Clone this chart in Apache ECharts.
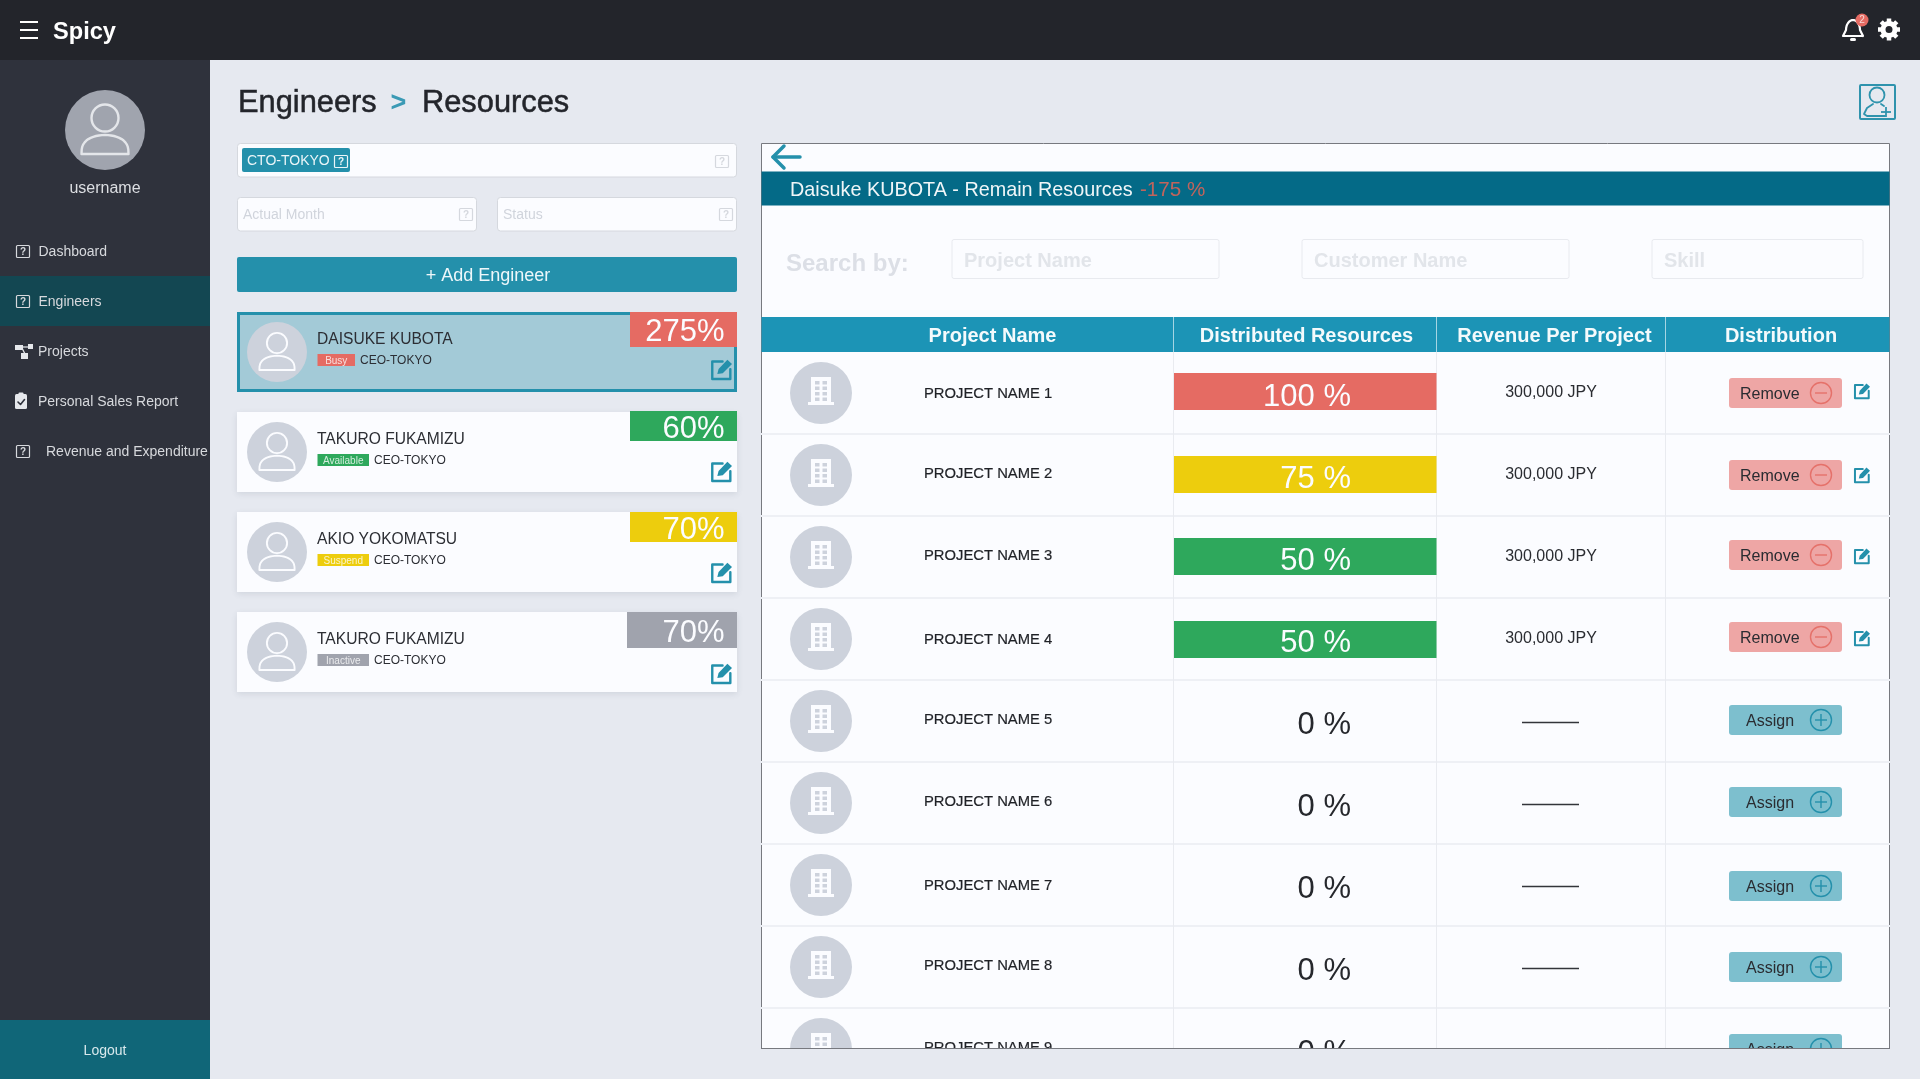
<!DOCTYPE html>
<html>
<head>
<meta charset="utf-8">
<title>Spicy - Engineers Resources</title>
<script src="https://cdn.jsdelivr.net/npm/echarts@6/dist/echarts.min.js"></script>
<style>
	html, body { margin: 0; padding: 0; background: #e6e9f0; overflow: hidden; }
	#page { width: 1920px; height: 1079px; }
</style>
</head>
<body>
<div id="page"></div>
<script type="text/javascript">
// engineers list
var engineerNames = ['DAISUKE KUBOTA', 'TAKURO FUKAMIZU', 'AKIO YOKOMATSU', 'TAKURO FUKAMIZU'];
var engineerStatus = ['Busy', 'Available', 'Suspend', 'Inactive'];
var engineerRoles = ['CEO-TOKYO', 'CEO-TOKYO', 'CEO-TOKYO', 'CEO-TOKYO'];
var engineerLoad = [275, 60, 70, 70];

// projects table
var projectNames = ['PROJECT NAME 1', 'PROJECT NAME 2', 'PROJECT NAME 3', 'PROJECT NAME 4', 'PROJECT NAME 5',
	'PROJECT NAME 6', 'PROJECT NAME 7', 'PROJECT NAME 8', 'PROJECT NAME 9'];
var distributed = [100, 75, 50, 50, 0, 0, 0, 0, 0];
var revenue = [300000, 300000, 300000, 300000, 0, 0, 0, 0, 0];

var menuItems = ['Dashboard', 'Engineers', 'Projects', 'Personal Sales Report', 'Revenue and Expenditure'];
var tableHeaders = ['Project Name', 'Distributed Resources', 'Revenue Per Project', 'Distribution'];
var searchFields = ['Project Name', 'Customer Name', 'Skill'];

var FONT = '"Liberation Sans", Arial, sans-serif';
var RED = '#e56b63', GREEN = '#2ea85c', YELLOW = '#edcd0d', GRAY = '#a0a3ad', TEAL = '#2490ab';
var statusColor = { Busy: RED, Available: GREEN, Suspend: YELLOW, Inactive: GRAY };

// small hand placed offsets, the reference is not quite regular
var badgeBox = [[630, 0, 35], [630, -1, 30], [630, 0, 30], [627, 0, 36]];
var cardEditY = [47, 49, 50, 51];
var rowEditY = [-10, -8, -9, -9];
var rowTextY = [-1, -3, -3, -1, -3, -3, -1, -3, -3];
var rowBtnY = [0, 0, -2, -2, -1, -1, 1, 0, 0];
var rowBarY = [0, 1, 1, 2, 0, 0, 0, 0, 0];

function txt(text, x, y, size, color, align, weight, heavy) {
	var el = {
		type: 'text',
		style: {
			text: text, x: x, y: y + 1 + size * 0.03, fill: color,
			font: (weight || 'normal') + ' ' + size + 'px ' + FONT,
			textAlign: align || 'left', textVerticalAlign: 'middle'
		}
	};
	if (heavy) {
		el.style.stroke = color;
		el.style.lineWidth = heavy;
	}
	return el;
}
function box(x, y, w, h, fill, r, stroke, lw, extra) {
	var style = { fill: fill, stroke: stroke || null, lineWidth: lw || 0 };
	for (var k in (extra || {})) style[k] = extra[k];
	return { type: 'rect', shape: { x: x, y: y, width: w, height: h, r: r || 0 }, style: style };
}
function ring(cx, cy, r, fill, stroke, lw) {
	return { type: 'circle', shape: { cx: cx, cy: cy, r: r }, style: { fill: fill, stroke: stroke || null, lineWidth: lw || 0 } };
}
function seg(x1, y1, x2, y2, color, lw) {
	return { type: 'line', shape: { x1: x1, y1: y1, x2: x2, y2: y2 }, style: { stroke: color, lineWidth: lw || 1 } };
}
function poly(points, color, lw) {
	return { type: 'polyline', shape: { points: points }, style: { stroke: color, lineWidth: lw, fill: null, lineCap: 'round', lineJoin: 'round' } };
}

// person in a filled circle
function avatar(cx, cy, r, fill, line) {
	var s = r / 40, pts = [];
	for (var i = 0; i <= 24; i++) {
		var t = Math.PI * i / 24;
		pts.push([cx + 23.5 * s * Math.cos(t), cy + 24 * s - 19 * s * Math.pow(Math.sin(t), 0.7)]);
	}
	pts.push(pts[0]);
	return [
		ring(cx, cy, r, fill),
		ring(cx, cy - 12 * s, 13.5 * s, null, line, 2 * s + 0.4),
		poly(pts, line, 2 * s + 0.4)
	];
}
// square with a pen
function editIcon(x, y, s, color) {
	var p = function (a, b) { return [x + a * s, y + b * s]; };
	return [
		poly([p(0.55, 0.12), p(0.06, 0.12), p(0.06, 0.95), p(0.92, 0.95), p(0.92, 0.48)], color, s > 18 ? 2.4 : 2),
		{ type: 'polygon', shape: { points: [p(0.3, 0.72), p(0.36, 0.48), p(0.78, 0.03), p(1.0, 0.24), p(0.56, 0.68)] }, style: { fill: color } }
	];
}
// square with a question mark, stands for a missing icon glyph
function helpIcon(x, y, color) {
	return [
		box(x, y, 13, 12, null, 1, color, 1.2),
		txt('?', x + 6.5, y + 5, 10, color, 'center', 'bold')
	];
}
function buildingIcon(cx, cy) {
	var els = [box(cx - 10, cy - 15, 20, 27, '#fbfcff'), box(cx - 13, cy + 10, 26, 3, '#fbfcff')];
	for (var r = 0; r < 4; r++) {
		for (var c = 0; c < 2; c++) {
			els.push(box(cx - 6 + c * 7.5, cy - 11 + r * 5.5, 4.5, 3.5, '#cdd2dc'));
		}
	}
	return els;
}
function gearIcon(cx, cy) {
	var els = [];
	for (var i = 0; i < 8; i++) {
		var a = Math.PI * i / 4;
		els.push(seg(cx + 6 * Math.cos(a), cy + 6 * Math.sin(a), cx + 11 * Math.cos(a), cy + 11 * Math.sin(a), '#fff', 4.5));
	}
	els.push(ring(cx, cy, 6, null, '#fff', 5));
	return els;
}
function bellIcon(cx, top) {
	var pts = [];
	for (var i = 0; i <= 16; i++) {
		var t = Math.PI * i / 16;
		pts.push([cx + 7 * Math.cos(t), top + 12 - 10 * Math.sin(t)]);
	}
	return [
		poly([[cx + 10, top + 18]].concat(pts, [[cx - 10, top + 18], [cx + 10, top + 18]]), '#fff', 2.2),
		box(cx - 3, top + 20, 6, 3, '#fff', 1.5)
	];
}

// page frame: header, sidebar, filters
function frameElements() {
	var els = [];
	els.push(box(0, 0, 1920, 60, '#23252b'));
	els.push(box(0, 60, 210, 1019, '#2f323c'));
	[22, 30, 38].forEach(function (y) { els.push(seg(20, y, 38, y, '#fff', 2)); });
	els.push(txt('Spicy', 53, 31, 23.6, '#fff', 'left', 'bold'));
	els = els.concat(bellIcon(1853, 18));
	els.push(ring(1862, 20, 6.5, RED));
	els.push(txt('2', 1862, 19, 10, '#f6d9d6', 'center'));
	els = els.concat(gearIcon(1889, 29.5));

	els = els.concat(avatar(105, 130, 40, '#a0a4ae', '#e4e6ea'));
	els.push(txt('username', 105, 187, 16, '#dcdee2', 'center'));

	els.push(box(0, 276, 210, 50, '#134752'));
	var menuX = [38.5, 38.5, 38, 38, 46];
	menuItems.forEach(function (name, i) {
		var y = 251 + i * 50;
		els.push(txt(name, menuX[i], y, 14, '#d7d9dd'));
		if (i !== 2 && i !== 3) els = els.concat(helpIcon(16.5, y - 5.5, '#d7d9dd'));
	});
	// projects + report icons
	els.push(box(15, 345, 8, 5, '#e6e8ec'), box(28, 344, 5, 5, '#e6e8ec'), box(21, 353, 7, 6, '#e6e8ec'));
	els.push(seg(22, 348, 25, 354, '#e6e8ec', 1.2), seg(23, 347, 29, 347, '#e6e8ec', 1.2));
	els.push(box(15, 394, 12, 15, '#e6e8ec', 1.5), box(18.5, 392.5, 5, 3, '#e6e8ec', 1));
	els.push(poly([[18, 402], [20.5, 404.5], [24.5, 399.5]], '#2f323c', 1.6));

	els.push(box(0, 1020, 210, 59, '#106678'));
	els.push(txt('Logout', 105, 1049.5, 14, '#d7e8ec', 'center'));

	// breadcrumb
	els.push(txt('Engineers', 238, 102, 30.8, '#23252b', 'left', null, 0.5));
	els.push(txt('>', 398.5, 102, 27, '#3b9ab5', 'center', 'bold'));
	els.push(txt('Resources', 422, 102, 30.8, '#23252b', 'left', null, 0.5));

	// add user
	els.push(box(1860, 85, 35, 34, null, 1, '#2f93ad', 2));
	els.push(ring(1877, 95, 7.5, null, '#2f93ad', 1.8));
	els.push(poly([[1885, 116], [1867, 116], [1864, 114], [1867, 108], [1873, 104]], '#2f93ad', 1.8));
	els.push(poly([[1881, 104], [1884, 106]], '#2f93ad', 1.8));
	els.push(seg(1881, 112, 1891, 112, '#2f93ad', 1.8), seg(1886, 107, 1886, 117, '#2f93ad', 1.8));

	// filters
	els.push(box(237.5, 143.5, 499, 33.5, '#fbfcff', 3, '#d5d8de', 1));
	els.push(box(242, 148, 108, 24, TEAL, 2));
	els.push(txt('CTO-TOKYO', 247, 159.5, 14, '#eaf5f8'));
	els = els.concat(helpIcon(334.5, 155.5, '#eaf5f8'));
	els = els.concat(helpIcon(715.5, 155.5, '#d5d8de'));
	els.push(box(237.5, 197.5, 239, 33.5, '#fbfcff', 3, '#d5d8de', 1));
	els.push(box(497.5, 197.5, 239, 33.5, '#fbfcff', 3, '#d5d8de', 1));
	els.push(txt('Actual Month', 243, 213.5, 14, '#d0d4dc'));
	els.push(txt('Status', 503, 213.5, 14, '#d0d4dc'));
	els = els.concat(helpIcon(459.5, 208.5, '#d5d8de'));
	els = els.concat(helpIcon(719.5, 208.5, '#d5d8de'));
	els.push(box(237, 257, 500, 35, TEAL, 2));
	els.push(txt('+ Add Engineer', 488, 274, 18, '#eef7fa', 'center'));

	// right panel
	els.push(box(761.5, 143.5, 1128, 905, '#fbfcff', 0, '#77797f', 1));
	els.push(poly([[800, 157], [773, 157]], TEAL, 3.5), poly([[784, 146], [773, 157], [784, 168]], TEAL, 3.5));
	els.push(box(761.5, 171.5, 1128, 34, '#046a87'));
	els.push(txt('Daisuke KUBOTA - Remain Resources', 790, 189, 19.8, '#f0f6f8'));
	els.push(txt('-175 %', 1140, 189, 20.6, '#c0645c'));
	els.push(txt('Search by:', 786, 263, 24, '#dcdfe6', 'left', 'bold'));
	var fieldBox = [[952, 267], [1302, 267], [1652, 211]];
	searchFields.forEach(function (name, i) {
		els.push(box(fieldBox[i][0], 239.5, fieldBox[i][1], 39, '#fbfcff', 2, '#e8eaef', 1));
		els.push(txt(name, fieldBox[i][0] + 12, 260, 20, '#e2e5ea', 'left', 'bold'));
	});
	els.push(box(761.5, 317, 1128, 35, '#1c94b6'));
	var headCenter = [992.5, 1306.5, 1554.5, 1781];
	tableHeaders.forEach(function (name, i) {
		els.push(txt(name, headCenter[i], 335, 20, '#f4fafc', 'center', 'bold'));
	});
	els.push(seg(1173.5, 317, 1173.5, 352, '#a5d5e3'), seg(1436.5, 317, 1436.5, 352, '#a5d5e3'), seg(1665.5, 317, 1665.5, 352, '#a5d5e3'));
	return els;
}

// strip that hides the rows running past the bottom of the panel
function coverElements() {
	var strip = box(210, 1049, 1710, 30, '#e6e9f0');
	var edge = seg(761, 1048.5, 1890, 1048.5, '#77797f', 1);
	strip.z = 20;
	edge.z = 20;
	return [strip, edge];
}

function renderEngineer(params, api) {
	var i = params.dataIndex;
	var mid = api.coord([0, i])[1];
	var top = mid - 40;
	var left = params.coordSys.x, right = left + params.coordSys.width;
	var color = statusColor[engineerStatus[i]];
	var selected = i === 0;
	var bb = badgeBox[i];
	var els = [];
	if (selected) {
		els.push(box(left + 1.5, top + 1.5, right - left - 3, 77, '#a3cad7', 0, TEAL, 3));
	} else {
		els.push(box(left, top, right - left, 80, '#fbfcff', 0, null, 0, { shadowBlur: 6, shadowColor: 'rgba(60,70,90,0.12)', shadowOffsetY: 2 }));
	}
	els = els.concat(avatar(left + 40, mid, 30, '#cdd2dc', '#fbfcff'));
	els.push(txt(engineerNames[i], left + 80, top + 26.5, 15.6, '#2c2e34'));
	var tagW = engineerStatus[i] === 'Busy' ? 37.5 : 51.5;
	els.push(box(left + 80.5, top + 42, tagW, 12, color));
	els.push(txt(engineerStatus[i], left + 80.5 + tagW / 2, top + 48, 10, 'rgba(255,255,255,0.78)', 'center'));
	els.push(txt(engineerRoles[i], left + 80.5 + tagW + 5, top + 47.5, 12, '#2c2e34'));
	els.push(box(bb[0], top + bb[1], right - bb[0], bb[2], color));
	els.push(txt(engineerLoad[i] + '%', right - 12.5, top + bb[1] + bb[2] / 2 + 1.5, 31, '#fbfcff', 'right'));
	els = els.concat(editIcon(right - 26, top + cardEditY[i], 21, TEAL));
	return { type: 'group', children: els };
}

function resourceColor(v) {
	if (v >= 100) return RED;
	if (v >= 75) return YELLOW;
	return GREEN;
}
function renderResource(params, api) {
	var i = params.dataIndex;
	var v = distributed[i];
	var mid = api.coord([v, i + 0.5])[1];
	var els = [];
	if (v > 0) {
		els.push(box(params.coordSys.x, mid - 20 + rowBarY[i], params.coordSys.width, 37, resourceColor(v)));
	}
	els.push(txt(v + ' %', 1351, mid + 3, 31, v > 0 ? '#fbfcff' : '#26282d', 'right'));
	return { type: 'group', children: els };
}

function renderProject(params, api) {
	var i = params.dataIndex;
	var mid = api.coord([0, i + 0.5])[1];
	var left = params.coordSys.x, right = left + params.coordSys.width;
	var textY = mid + rowTextY[i];
	var els = [];
	// grid lines of the table
	els.push(seg(left - 0.5, mid + 41, right + 0.5, mid + 41, '#eef0f5', 2));
	[1173.5, 1436.5, 1665.5].forEach(function (x) { els.push(seg(x, mid - 41, x, mid + 41, '#e9ebf0', 1)); });
	els.push(ring(left + 59.5, mid, 31, '#cdd2dc'));
	els = els.concat(buildingIcon(left + 59.5, mid - 1));
	els.push(txt(projectNames[i], 924, textY, 14.8, '#1f2126', 'left', null, 0.2));
	if (revenue[i] > 0) {
		els.push(txt(revenue[i].toLocaleString('en-US') + ' JPY', 1551, mid - 2, 16, '#2a2c31', 'center'));
	} else {
		els.push(seg(1522, mid + 1.5, 1579, mid + 1.5, '#33353a', 1.5));
	}
	var btnMid = mid + rowBtnY[i];
	var assigned = distributed[i] > 0;
	els.push(box(1729, btnMid - 15, 113, 30, assigned ? '#eea6a5' : '#7dbfce', 3));
	els.push(txt(assigned ? 'Remove' : 'Assign', assigned ? 1740 : 1746, btnMid, 16, '#2a2c31'));
	var mark = assigned ? '#e5716a' : TEAL;
	els.push(ring(1821, btnMid, 10.5, null, mark, 1.4));
	els.push(seg(1815, btnMid, 1827, btnMid, mark, 1.4));
	if (!assigned) {
		els.push(seg(1821, btnMid - 6, 1821, btnMid + 6, mark, 1.4));
	} else {
		els = els.concat(editIcon(1854, mid + rowEditY[i], 16, TEAL));
	}
	return { type: 'group', children: els };
}

var chart = echarts.init(document.getElementById('page'));
var option = {
	animation: false,
	backgroundColor: '#e6e9f0',
	tooltip: { show: false },
	// the table grids hold 8 full rows, row 9 runs past them and is cut by the panel edge
	grid: [
		{ left: 237, top: 302, width: 500, height: 400 },
		{ left: 761.5, top: 352, width: 1128, height: 656 },
		{ left: 1174, top: 352, width: 262.5, height: 656 }
	],
	xAxis: [
		{ gridIndex: 0, type: 'value', show: false, min: 0, max: 300 },
		{ gridIndex: 1, type: 'value', show: false, min: 0, max: 100 },
		{ gridIndex: 2, type: 'value', show: false, min: 0, max: 100 }
	],
	yAxis: [
		{ gridIndex: 0, type: 'category', inverse: true, show: false, data: engineerNames.map(function (n, i) { return i + ':' + n; }) },
		{ gridIndex: 1, type: 'value', inverse: true, show: false, min: 0, max: 8 },
		{ gridIndex: 2, type: 'value', inverse: true, show: false, min: 0, max: 8 }
	],
	graphic: { elements: frameElements().concat(coverElements()) },
	series: [
		{
			name: 'Engineers', type: 'custom', xAxisIndex: 0, yAxisIndex: 0, silent: true,
			renderItem: renderEngineer,
			data: engineerLoad.map(function (v, i) { return [v, i]; })
		},
		{
			name: 'Projects', type: 'custom', xAxisIndex: 1, yAxisIndex: 1, silent: true,
			renderItem: renderProject,
			data: revenue.map(function (v, i) { return [0, i + 0.5]; })
		},
		{
			name: 'Distributed Resources', type: 'custom', xAxisIndex: 2, yAxisIndex: 2, silent: true, z: 3,
			renderItem: renderResource,
			data: distributed.map(function (v, i) { return [v, i + 0.5]; })
		}
	]
};
chart.setOption(option);
window.onresize = function () {
	chart.resize();
};
</script>
</body>
</html>
